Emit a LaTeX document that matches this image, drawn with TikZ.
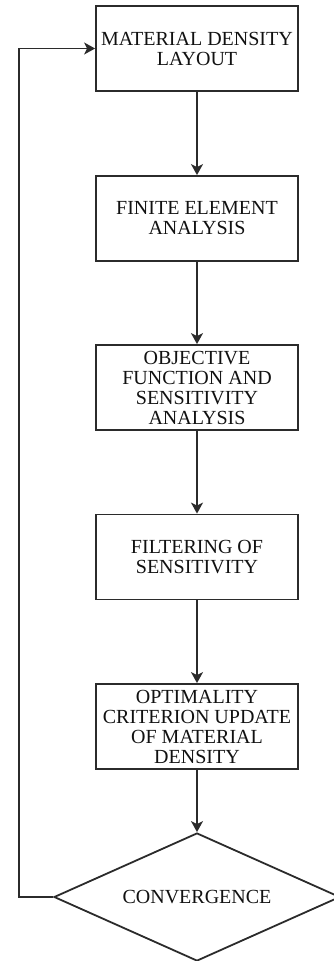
\documentclass[tikz,border=0pt]{standalone}
\usepackage{fontspec}
\setmainfont{Liberation Serif}
\usetikzlibrary{shapes.geometric,arrows.meta}
\definecolor{linec}{HTML}{2B2B2B}
\definecolor{txtc}{HTML}{111111}
\begin{document}
\begin{tikzpicture}[x=1pt,y=-1pt,
  stepbox/.style={draw=linec, line width=1.8pt, minimum width=202pt, minimum height=85pt, inner sep=0pt,
    align=center, text=txtc, font=\fontsize{20pt}{20pt}\selectfont},
  decbox/.style={draw=linec, line width=1.8pt, shape=diamond, aspect=2.234, minimum width=286pt, minimum height=128pt,
    inner sep=0pt, text=txtc, font=\fontsize{20pt}{20pt}\selectfont},
  conn/.style={draw=linec, line width=1.8pt, -{Stealth[length=11pt,width=12pt,inset=3pt]}}]
\useasboundingbox (0,0) rectangle (334,961);
\node[stepbox] (b1) at (197,48.5) {MATERIAL DENSITY\\LAYOUT};
\node[stepbox] (b2) at (197,218.5) {FINITE ELEMENT\\ANALYSIS};
\node[stepbox] (b3) at (197,387.5) {OBJECTIVE\\FUNCTION AND\\SENSITIVITY\\ANALYSIS};
\node[stepbox] (b4) at (197,557) {FILTERING OF\\SENSITIVITY};
\node[stepbox] (b5) at (197,726.5) {OPTIMALITY\\CRITERION UPDATE\\OF MATERIAL\\DENSITY};
\node[decbox] (d) at (197,897) {CONVERGENCE};
\coordinate (c1) at (19,897);
\coordinate (c2) at (19,48.5);
\draw[conn] (b1) -- (b2);
\draw[conn] (b2) -- (b3);
\draw[conn] (b3) -- (b4);
\draw[conn] (b4) -- (b5);
\draw[conn] (b5) -- (d);
\draw[conn] (d.west) -- (c1) -- (c2) -- (b1.west);
\end{tikzpicture}
\end{document}
